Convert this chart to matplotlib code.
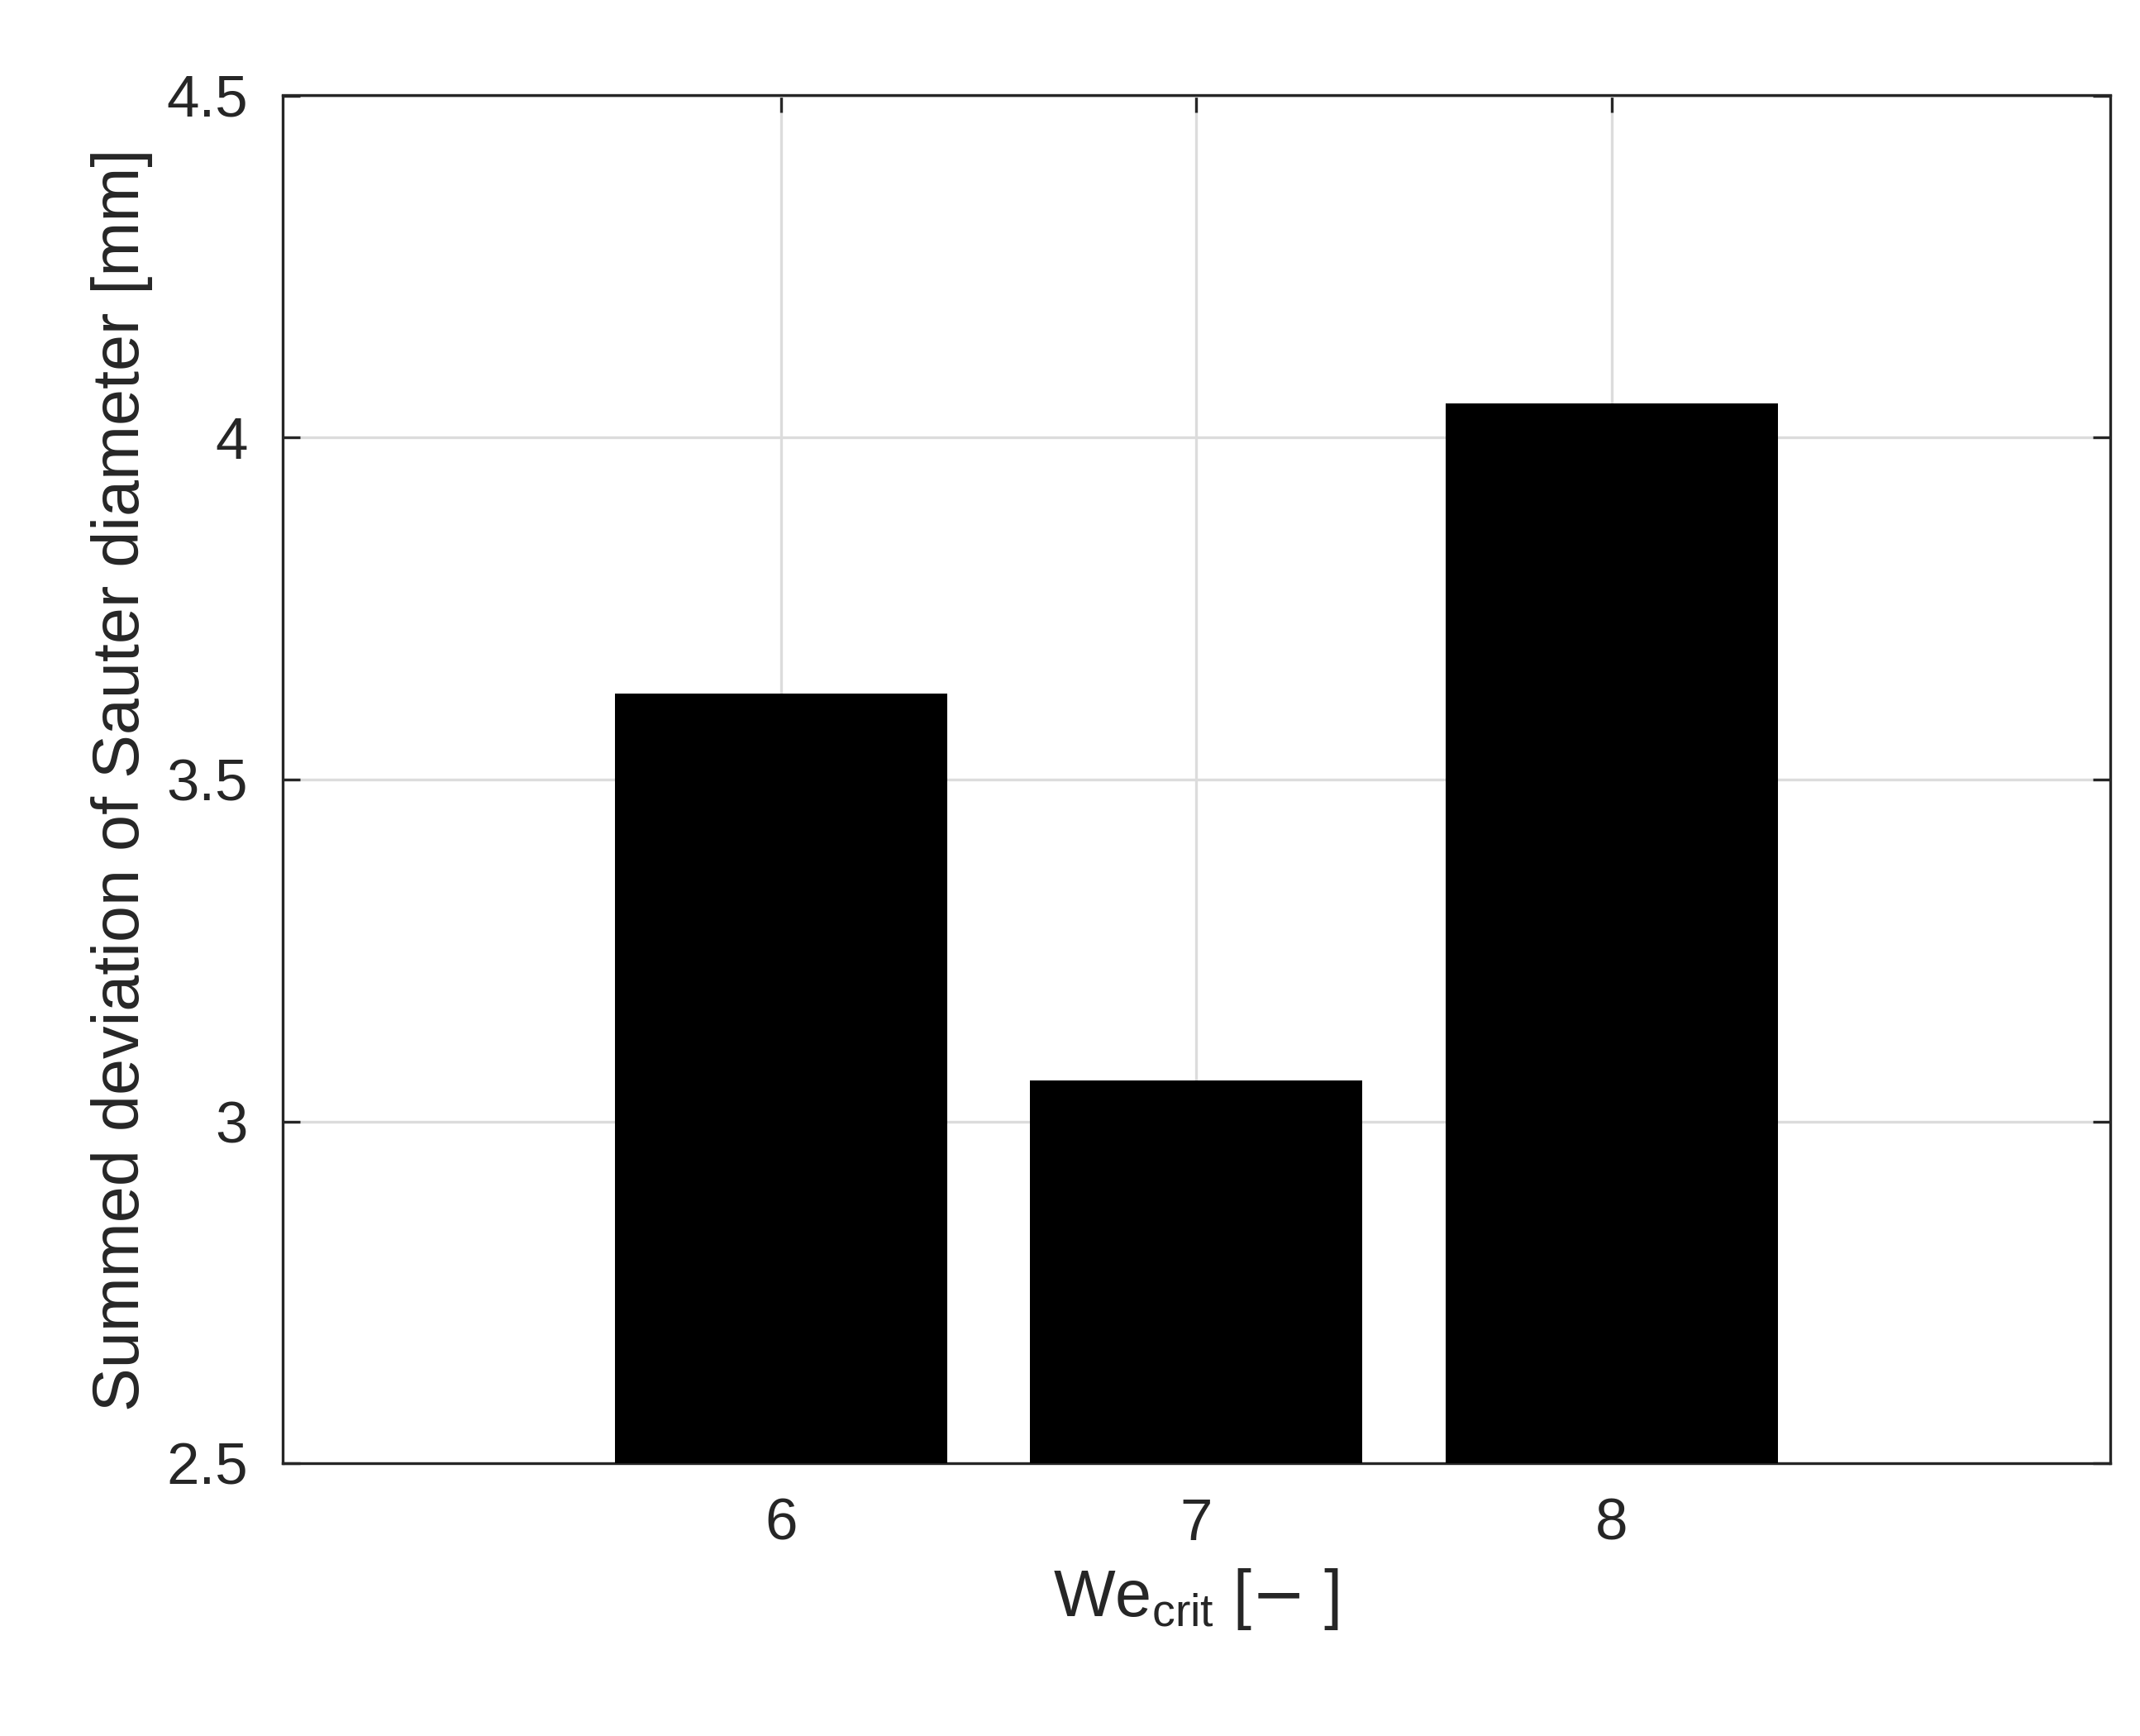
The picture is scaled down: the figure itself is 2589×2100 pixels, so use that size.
import matplotlib.pyplot as plt

plt.rcParams['font.family'] = ['Liberation Sans', 'DejaVu Sans']

we_crit = [6, 7, 8]
deviation = [3.625, 3.06, 4.05]

fig = plt.figure(figsize=(8.63, 7.0), dpi=300)
ax = fig.add_axes([0.132, 0.157, 0.854, 0.788])

ax.bar(we_crit, [d - 2.5 for d in deviation], bottom=2.5, width=0.8, color='black', zorder=3)

ax.set_xlim(4.8, 9.2)
ax.set_ylim(2.5, 4.5)
ax.set_xticks(we_crit)
ax.set_yticks([2.5, 3, 3.5, 4, 4.5])
ax.set_yticklabels(['2.5', '3', '3.5', '4', '4.5'])
ax.grid(True, color='#dcdcdc', linewidth=0.8, zorder=0)
ax.tick_params(direction='in', top=True, right=True, labelsize=17, colors='#262626',
               length=5, width=0.8, pad=10)
for s in ax.spines.values():
    s.set_linewidth(0.8)
    s.set_color('#262626')

ax.set_xlabel(r'We$_{\mathregular{crit}}$ [$-$ ]', fontsize=19, color='#262626')
ax.set_ylabel('Summed deviation of Sauter diameter [mm]', fontsize=19, color='#262626')

fig.savefig('out.png', dpi=300)
